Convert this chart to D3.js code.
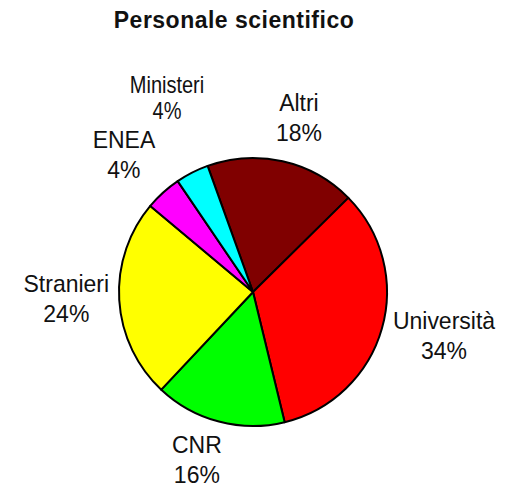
<!DOCTYPE html>
<html>
<head>
<meta charset="utf-8">
<script src="https://cdn.jsdelivr.net/npm/d3@7"></script>
<style>
  html, body { margin: 0; padding: 0; background: #fff; }
  svg { display: block; }
  text { font-family: "Liberation Sans", Arial, sans-serif; fill: #111; }
</style>
</head>
<body>
<svg id="chart" width="508" height="487"></svg>
<script>
// ---- data ----
const title = "Personale scientifico";
const categories = ["Altri", "Università", "CNR", "Stranieri", "ENEA", "Ministeri"];
const values = [18.1, 33.6, 15.8, 24.1, 4.4, 4.0];
const colors = ["#800000", "#ff0000", "#00ff00", "#ffff00", "#ff00ff", "#00ffff"];

// ---- layout (not data) ----
const W = 508, H = 487;
const cx = 253, cy = 292, r = 134;
const startDeg = -19.8;
const labelRadius = 185;
const labelNudge = [[5, 6], [13, -7], [-9, -12], [-2, -5], [-5, -1], [-2, -30]];
const labelFont = [23, 23, 23, 23, 23, 20];
const labelStretch = [1.07, 1.07, 1.07, 1.07, 1.07, 1.2];

const svg = d3.select("#chart");

svg.append("text")
  .attr("transform", `translate(${234},${28}) scale(1,1.08)`)
  .attr("text-anchor", "middle")
  .style("font-weight", "bold")
  .style("font-size", "23px")
  .style("letter-spacing", "0.5px")
  .text(title);

const total = d3.sum(values);
const rows = categories.map((c, i) => ({ cat: c, value: values[i], color: colors[i], i }));

const start = startDeg * Math.PI / 180;
const pie = d3.pie().sort(null).value(d => d.value)
  .startAngle(start).endAngle(start + 2 * Math.PI);
const arcs = pie(rows);

const arc = d3.arc().innerRadius(0).outerRadius(r);
const labelArc = d3.arc().innerRadius(labelRadius).outerRadius(labelRadius);

const g = svg.append("g").attr("transform", `translate(${cx},${cy})`);

g.selectAll("path.slice")
  .data(arcs)
  .join("path")
  .attr("class", "slice")
  .attr("d", arc)
  .attr("fill", d => d.data.color)
  .attr("stroke", "#000")
  .attr("stroke-width", 2)
  .attr("stroke-linejoin", "round");

const fmt = v => Math.round(v / total * 100) + "%";

const labels = g.selectAll("g.label")
  .data(arcs)
  .join("g")
  .attr("class", "label")
  .attr("transform", d => {
    const [x, y] = labelArc.centroid(d);
    const n = labelNudge[d.data.i];
    return `translate(${x + n[0]},${y + n[1]}) scale(1,${labelStretch[d.data.i]})`;
  });

labels.each(function (d) {
  const fs = labelFont[d.data.i];
  const sel = d3.select(this);
  const lh = fs * 1.22 / labelStretch[d.data.i] * 1.07;
  const cap = fs * 0.716;
  const b1 = -(lh + cap) / 2 + cap;
  sel.append("text")
    .attr("text-anchor", "middle")
    .attr("y", b1)
    .style("font-size", fs + "px")
    .text(d.data.cat);
  sel.append("text")
    .attr("text-anchor", "middle")
    .attr("y", b1 + lh)
    .style("font-size", fs + "px")
    .text(fmt(d.data.value));
});
</script>
</body>
</html>
